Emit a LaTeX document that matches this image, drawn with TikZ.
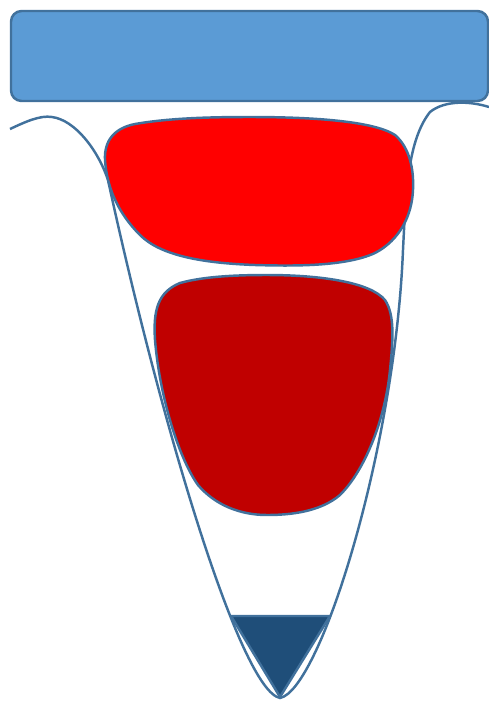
\documentclass[tikz,border=0pt]{standalone}
\usepackage{tikz}
\usetikzlibrary{positioning}
\usepackage{xcolor}
\definecolor{headblue}{RGB}{91,155,213}
\definecolor{edgeblue}{RGB}{65,113,156}
\definecolor{blobred}{RGB}{255,0,0}
\definecolor{blobdark}{RGB}{192,0,0}
\definecolor{tipnavy}{RGB}{31,78,121}
\tikzset{
  outline/.style={draw=edgeblue,line width=1.4pt},
  blob/.style={outline,line join=round}
}

\begin{document}
\begin{tikzpicture}[x=0.02cm,y=-0.02cm]
        \useasboundingbox (0,0) rectangle (489,701);
        % header bar
        \fill[headblue,outline,rounded corners=6pt]
              (11,11) rectangle (488,101);
        % tube outline
        \draw[outline]
          (10,129) .. controls (25,122) and (40,115) .. (52,117)
          .. controls (75,120) and (98,150) .. (108,180)
          .. controls (160,420) and (240,690) .. (280,698)
          .. controls (320,690) and (395,450) .. (403,250)
          .. controls (406,190) and (408,140) .. (430,112)
          .. controls (445,100) and (470,101) .. (489,107);
        % upper blob
        \fill[blobred,blob]
          (250,117) .. controls (320,117) and (375,122) .. (395,135)
          .. controls (410,148) and (414,170) .. (413,190)
          .. controls (412,215) and (400,240) .. (375,253)
          .. controls (345,267) and (290,266) .. (255,265)
          .. controls (200,263) and (160,255) .. (140,235)
          .. controls (120,215) and (107,190) .. (105,160)
          .. controls (104,140) and (115,128) .. (135,124)
          .. controls (170,118) and (210,117) .. (250,117) -- cycle;
        % lower blob
        \fill[blobdark,blob]
          (267,275) .. controls (320,275) and (370,282) .. (385,300)
          .. controls (395,315) and (393,340) .. (390,370)
          .. controls (385,420) and (365,470) .. (340,495)
          .. controls (320,512) and (290,515) .. (267,515)
          .. controls (240,515) and (215,505) .. (198,485)
          .. controls (180,460) and (160,400) .. (155,340)
          .. controls (153,310) and (158,292) .. (180,283)
          .. controls (205,276) and (240,275) .. (267,275) -- cycle;
        % tip
        \fill[tipnavy,blob] (231,616) -- (330,616) -- (280,697) -- cycle;
      \end{tikzpicture}
\end{document}
